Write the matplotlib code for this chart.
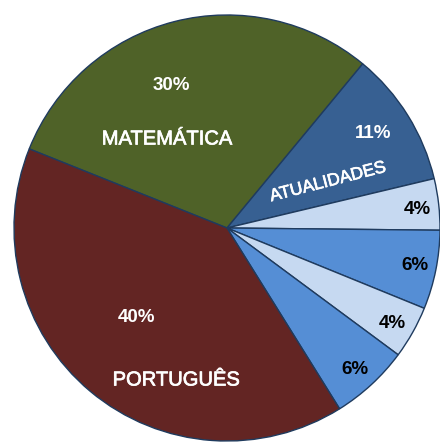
import matplotlib
matplotlib.use("Agg")
import matplotlib.pyplot as plt
import matplotlib.patheffects as pe

# Data
subjects = ["MATEMÁTICA", "ATUALIDADES", "", "", "", "", "PORTUGUÊS"]
values = [30, 10.3, 3.9, 6, 4, 6, 40]
pct_labels = ["30%", "11%", "4%", "6%", "4%", "6%", "40%"]

colors = ["#4F6228", "#376092", "#C6D9F1", "#558ED5", "#C6D9F1", "#558ED5", "#632523"]
pct_colors = ["white", "white", "black", "black", "black", "black", "white"]

plt.rcParams['font.family'] = ['Liberation Sans', 'DejaVu Sans']

fig = plt.figure(figsize=(4.40, 4.42), dpi=100)
ax = fig.add_axes([0, 0, 1, 1])
wedges, _ = ax.pie(values, colors=colors, startangle=158.2, counterclock=False,
                   radius=1.0, wedgeprops=dict(edgecolor="#1F3B5E", linewidth=1.0))

R = 213.0
cx, cy = 227.0, 228.0
ax.set_xlim(-cx / R, (440 - cx) / R)
ax.set_ylim(-(442 - cy) / R, cy / R)
ax.set_aspect('equal')
ax.axis('off')

def P(px, py):
    return (px - cx) / R, (cy - py) / R

# percentage label positions (pixel layout)
pct_pos = [(171, 85), (373, 134), (417, 209), (415, 266), (392, 323), (355, 369), (137, 317)]
for lab, col, (px, py) in zip(pct_labels, pct_colors, pct_pos):
    x, y = P(px, py)
    ax.text(x, y, lab, color=col, fontsize=13.5, fontweight='bold', ha='center', va='center')

name_pos = {0: ((167, 139), 0, 14.5), 1: ((328, 182), 14.5, 12.5), 6: ((176, 380), 0, 14.5)}
for i, ((px, py), rot, fs) in name_pos.items():
    x, y = P(px, py)
    ax.text(x, y, subjects[i], color='white', fontsize=fs, ha='center', va='center',
            rotation=rot, rotation_mode='anchor',
            path_effects=[pe.withStroke(linewidth=0.5, foreground='white')])

fig.savefig("out.png", dpi=100)
